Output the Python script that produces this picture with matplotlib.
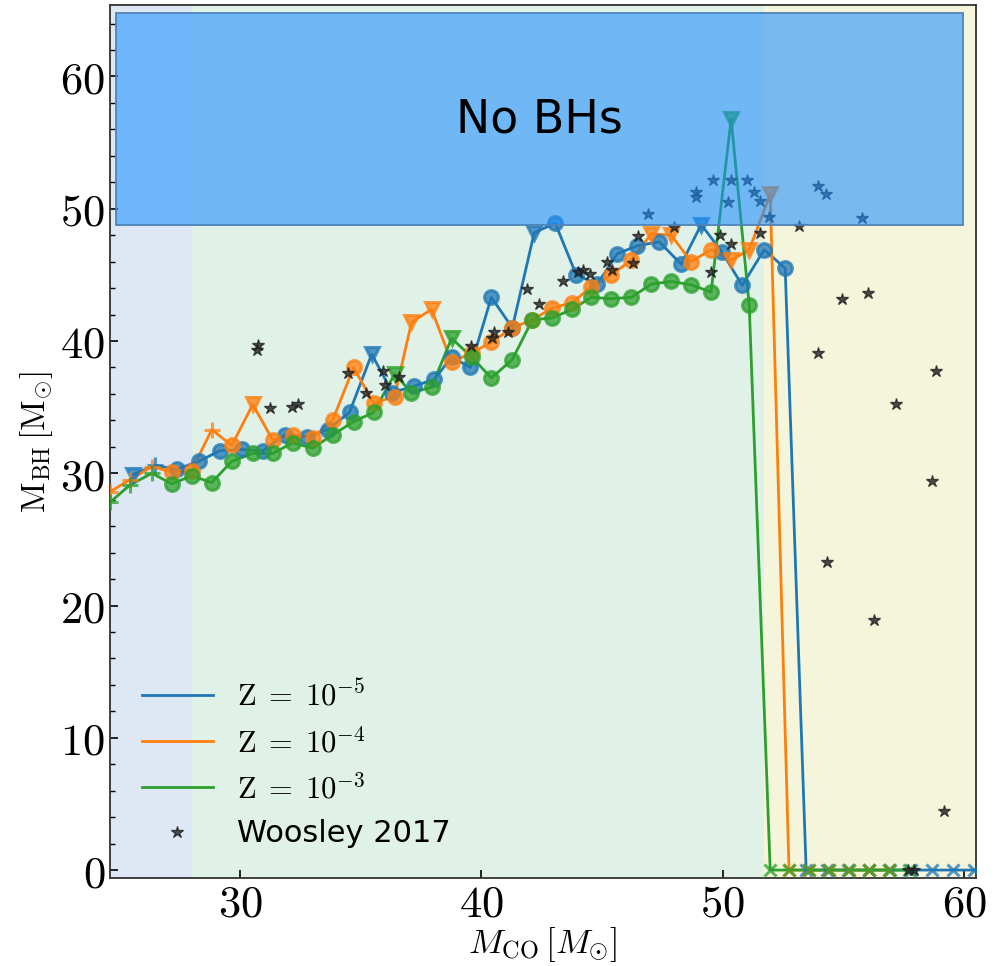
import matplotlib
matplotlib.use("Agg")
import matplotlib.pyplot as plt
from matplotlib.patches import Rectangle
from matplotlib.ticker import FuncFormatter, MultipleLocator

plt.rcParams['mathtext.fontset'] = 'cm'

# Z = 1e-5
mco_z5 = [25.55, 26.46, 27.37, 28.28, 29.15, 30.06, 30.93, 31.84, 32.76, 33.62,
          34.53, 35.45, 36.31, 37.22, 38.05, 38.76, 39.54, 40.41, 41.28, 42.19,
          43.06, 43.93, 44.80, 45.63, 46.46, 47.37, 48.28, 49.11, 49.98, 50.81,
          51.72, 52.59,
          53.46, 54.33, 55.20, 56.07, 56.94, 57.81, 58.68, 59.55, 60.42]
mbh_z5 = [29.9, 30.6, 30.3, 30.9, 31.7, 31.8, 31.7, 32.9, 32.75, 33.3,
          34.6, 39.0, 36.1, 36.6, 37.1, 38.8, 38.0, 43.3, 41.0, 48.2,
          48.9, 45.0, 44.3, 46.6, 47.2, 47.5, 45.8, 48.8, 46.7, 44.2,
          46.9, 45.5,
          0, 0, 0, 0, 0, 0, 0, 0, 0]
mk_z5 = list("v+" + "o" * 9 + "v" + "o" * 7 + "v" + "o" * 7 + "v" + "o" * 4 + "x" * 9)

# Z = 1e-4
mco_z4 = [24.60, 25.42, 26.34, 27.16, 27.99, 28.82, 29.65, 30.52, 31.35, 32.17,
          33.00, 33.83, 34.70, 35.53, 36.40, 37.10, 37.93, 38.76, 39.59, 40.41,
          41.28, 42.11, 42.94, 43.77, 44.55, 45.38, 46.21, 47.04, 47.87, 48.69,
          49.52, 50.35, 51.10, 51.97,
          52.75, 53.58, 54.41, 55.24, 56.07, 56.90]
mbh_z4 = [28.6, 29.5, 30.5, 30.1, 30.2, 33.3, 32.1, 35.2, 32.5, 32.9,
          32.7, 34.0, 38.0, 35.3, 35.8, 41.4, 42.4, 38.4, 39.1, 39.9,
          41.0, 41.6, 42.5, 42.9, 44.1, 45.0, 46.1, 48.1, 48.0, 46.0,
          46.9, 46.1, 46.9, 51.1,
          0, 0, 0, 0, 0, 0]
mk_z4 = list("+++oo+ov" + "o" * 7 + "vv" + "o" * 10 + "vv" + "oo" + "vvv" + "x" * 6)

# Z = 1e-3
mco_z3 = [24.60, 25.42, 26.34, 27.16, 27.99, 28.82, 29.65, 30.52, 31.35, 32.17,
          33.00, 33.83, 34.70, 35.53, 36.40, 37.10, 37.93, 38.76, 39.59, 40.41,
          41.28, 42.11, 42.94, 43.77, 44.55, 45.38, 46.21, 47.04, 47.87, 48.69,
          49.52, 50.35, 51.10,
          51.97, 52.75, 53.58, 54.41, 55.24, 56.07, 56.90, 57.73]
mbh_z3 = [27.8, 29.1, 30.0, 29.2, 29.8, 29.3, 30.9, 31.5, 31.5, 32.3,
          31.9, 32.9, 33.9, 34.6, 37.5, 36.1, 36.5, 40.2, 38.8, 37.2,
          38.6, 41.6, 41.75, 42.4, 43.3, 43.2, 43.3, 44.3, 44.5, 44.25,
          43.7, 56.8, 42.7,
          0, 0, 0, 0, 0, 0, 0, 0]
mk_z3 = list("+++" + "o" * 11 + "v" + "oo" + "v" + "o" * 13 + "v" + "o" + "x" * 8)

# Woosley 2017
mco_w17 = [30.70, 30.75, 31.25, 32.15, 32.40, 34.45, 35.20, 35.90, 36.00, 36.60,
           39.55, 40.45, 40.50, 41.10, 41.90, 42.40, 43.40, 44.00, 44.20, 44.50,
           45.20, 45.40, 46.30, 46.50, 46.90, 48.00, 48.90, 48.90, 49.60, 49.50,
           49.90, 50.20, 50.35, 50.35, 51.00, 51.30, 51.55, 51.55, 51.90, 53.17,
           53.95, 54.28, 55.78, 54.95, 56.02, 53.95, 58.84, 57.18, 54.33, 56.27,
           58.67, 59.17, 57.70, 57.95]
mbh_w17 = [39.3, 39.7, 34.9, 35.0, 35.2, 37.6, 36.1, 37.7, 36.7, 37.3,
           39.6, 40.2, 40.7, 40.7, 43.9, 42.8, 44.5, 45.2, 45.4, 45.1,
           46.0, 45.4, 45.9, 47.9, 49.6, 48.6, 51.3, 50.9, 52.2, 45.2,
           48.0, 50.5, 52.2, 47.3, 52.2, 51.3, 50.6, 48.2, 49.4, 48.7,
           51.7, 51.1, 49.3, 43.2, 43.6, 39.1, 37.7, 35.2, 23.3, 18.9,
           29.4, 4.5, 0.0, 0.0]

labels = [r'$\mathrm{Z}\;=\;10^{-5}$', r'$\mathrm{Z}\;=\;10^{-4}$', r'$\mathrm{Z}\;=\;10^{-3}$']
colors = ['C0', 'C1', 'C2']

fig = plt.figure(figsize=(9.96, 9.66), dpi=100)
ax = fig.add_axes([0.1104, 0.0911, 0.8695, 0.9037])

xlo, xhi = 24.6, 60.5
ax.axvspan(xlo, 28.0, color='#dde8f4', zorder=0, lw=0)
ax.axvspan(28.0, 51.72, color='#e0f1e8', zorder=0, lw=0)
ax.axvspan(51.72, xhi, color='#f5f5dc', zorder=0, lw=0)

msizes = {'o': 10, 'v': 10, '+': 11, 'x': 8}
for xs, ys, mk, lab, c in zip([mco_z5, mco_z4, mco_z3], [mbh_z5, mbh_z4, mbh_z3],
                              [mk_z5, mk_z4, mk_z3], labels, colors):
    ax.plot(xs, ys, color=c, lw=2, label=lab, zorder=2)
    for m in set(mk):
        px = [x for x, k in zip(xs, mk) if k == m]
        py = [y for y, k in zip(ys, mk) if k == m]
        ax.plot(px, py, ls='none', marker=m, color=c, ms=msizes[m],
                mew=2.2, alpha=0.75, zorder=3)

ax.plot(mco_w17, mbh_w17, ls='none', marker='*', color='#222222', ms=9,
        alpha=0.8, label='Woosley 2017', zorder=4)

ax.add_patch(Rectangle((24.85, 48.75), 35.1, 16.05, facecolor=(0.118, 0.565, 1.0, 0.58),
                       edgecolor='#4f84b8', lw=1.3, zorder=5))
ax.text(42.4, 56.7, 'No BHs', fontsize=33, ha='center', va='center', zorder=6)

ax.set_xlim(xlo, xhi)
ax.set_ylim(-0.6, 65.4)
ax.xaxis.set_major_locator(MultipleLocator(10))
ax.yaxis.set_major_locator(MultipleLocator(10))
ax.yaxis.set_minor_locator(MultipleLocator(2))
fmt = FuncFormatter(lambda v, p: r'$%d$' % v)
ax.xaxis.set_major_formatter(fmt)
ax.yaxis.set_major_formatter(fmt)
ax.tick_params(which='both', direction='in', labelsize=32)
ax.tick_params(which='major', length=6, width=1.2)
ax.tick_params(which='minor', length=3.5, width=1)
ax.tick_params(axis='x', pad=3)
for s in ax.spines.values():
    s.set_linewidth(1.3)
    s.set_color('#333333')

ax.set_xlabel(r'$M_{\rm CO}\,[M_{\odot}]$', fontsize=25, labelpad=0)
ax.set_ylabel(r'$\rm M_{BH}\,[M_{\odot}]$', fontsize=24, labelpad=4)

ax.legend(loc='lower left', bbox_to_anchor=(-0.005, -0.008), frameon=False, fontsize=22,
          handlelength=2.3, labelspacing=0.5, borderaxespad=0.8)

fig.savefig('out.png', dpi=100)
